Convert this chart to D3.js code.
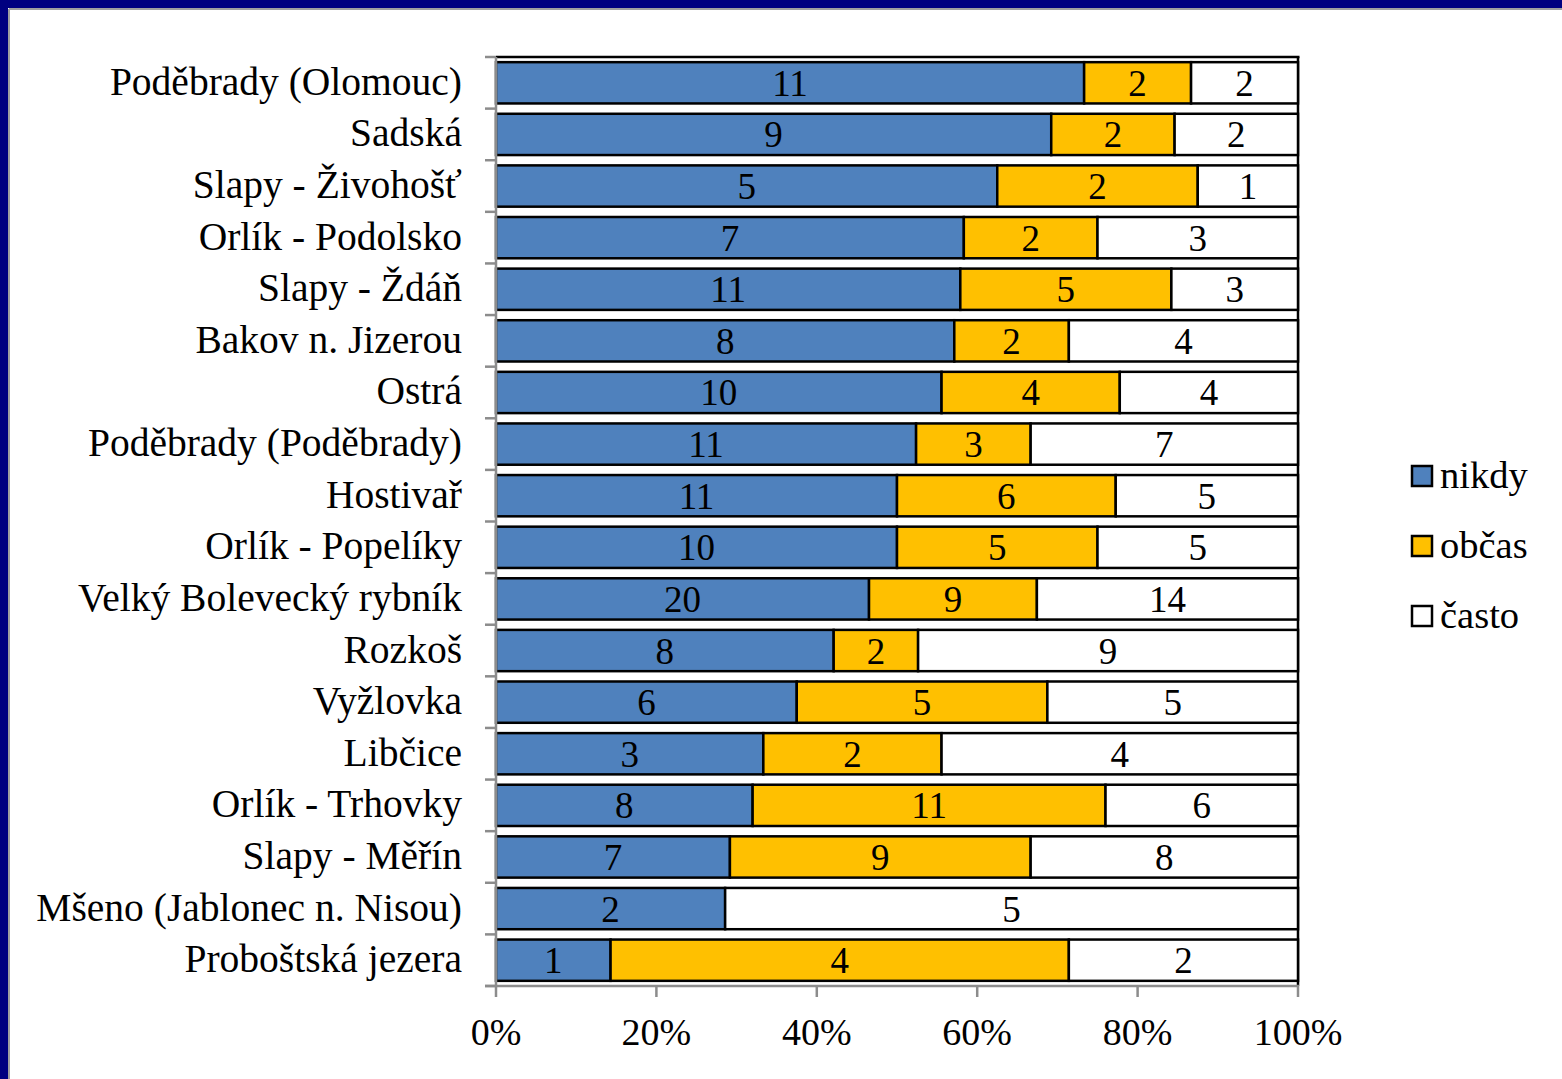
<!DOCTYPE html>
<html>
<head>
<meta charset="utf-8">
<script src="https://cdn.jsdelivr.net/npm/d3@7"></script>
<style>
  html, body { margin: 0; padding: 0; background: #fff; }
  svg { display: block; }
  text { font-family: "Liberation Serif", "Times New Roman", serif; fill: #000; }
</style>
</head>
<body>
<svg id="chart" width="1562" height="1079"></svg>
<script>
// Localities, top to bottom
const categories = [
  "Poděbrady (Olomouc)", "Sadská", "Slapy - Živohošť", "Orlík - Podolsko",
  "Slapy - Ždáň", "Bakov n. Jizerou", "Ostrá", "Poděbrady (Poděbrady)",
  "Hostivař", "Orlík - Popelíky", "Velký Bolevecký rybník", "Rozkoš",
  "Vyžlovka", "Libčice", "Orlík - Trhovky", "Slapy - Měřín",
  "Mšeno (Jablonec n. Nisou)", "Proboštská jezera"
];
// Answer counts per locality
const nikdy = [11, 9, 5, 7, 11, 8, 10, 11, 11, 10, 20, 8, 6, 3, 8, 7, 2, 1];
const obcas = [2, 2, 2, 2, 5, 2, 4, 3, 6, 5, 9, 2, 5, 2, 11, 9, 0, 4];
const casto = [2, 2, 1, 3, 3, 4, 4, 7, 5, 5, 14, 9, 5, 4, 6, 8, 5, 2];

const seriesNames = ["nikdy", "občas", "často"];
const seriesColors = ["#4F81BD", "#FFC000", "#FFFFFF"];
const xTicks = [0, 0.2, 0.4, 0.6, 0.8, 1.0];

const svg = d3.select("#chart");

// Frame
svg.append("rect").attr("x", 0).attr("y", 0).attr("width", 1562).attr("height", 1079).attr("fill", "#fff");
svg.append("rect").attr("x", 0).attr("y", 0).attr("width", 1562).attr("height", 8).attr("fill", "#000080");
svg.append("rect").attr("x", 0).attr("y", 0).attr("width", 8).attr("height", 1079).attr("fill", "#000080");
svg.append("line").attr("x1", 9).attr("x2", 1562).attr("y1", 9).attr("y2", 9).attr("stroke", "#a0a0a0").attr("stroke-width", 2);
svg.append("line").attr("x1", 9).attr("x2", 9).attr("y1", 9).attr("y2", 1079).attr("stroke", "#a0a0a0").attr("stroke-width", 2);

const plot = { left: 496, right: 1298, top: 57, bottom: 986 };

const x = d3.scaleLinear().domain([0, 1]).range([plot.left, plot.right]);
const y = d3.scaleBand().domain(categories).range([plot.top, plot.bottom])
  .paddingInner(0.2).paddingOuter(0.1);
const yBand = d3.scaleBand().domain(categories).range([plot.top, plot.bottom]);

// Table of rows for stacking (shares of each locality's total)
const rows = categories.map((c, i) => {
  const total = nikdy[i] + obcas[i] + casto[i];
  return { cat: c, counts: [nikdy[i], obcas[i], casto[i]], total,
    "nikdy": nikdy[i] / total, "občas": obcas[i] / total, "často": casto[i] / total };
});
const stacked = d3.stack().keys(seriesNames)(rows);

// Plot frame (top / right)
svg.append("line").attr("x1", plot.left).attr("x2", plot.right + 1.5).attr("y1", plot.top).attr("y2", plot.top)
  .attr("stroke", "#000").attr("stroke-width", 2.5);
svg.append("line").attr("x1", plot.right).attr("x2", plot.right).attr("y1", plot.top).attr("y2", plot.bottom)
  .attr("stroke", "#000").attr("stroke-width", 2.5);

// Bars
stacked.forEach((layer, si) => {
  const g = svg.append("g");
  g.selectAll("rect").data(layer).join("rect")
    .attr("x", d => x(d[0]))
    .attr("y", d => y(d.data.cat))
    .attr("width", d => x(d[1]) - x(d[0]))
    .attr("height", y.bandwidth())
    .attr("fill", seriesColors[si])
    .attr("stroke", "#000")
    .attr("stroke-width", 2.5)
    .style("display", d => d.data.counts[si] === 0 ? "none" : null);
  g.selectAll("text").data(layer.filter(d => d.data.counts[si] > 0)).join("text")
    .attr("x", d => (x(d[0]) + x(d[1])) / 2)
    .attr("y", d => y(d.data.cat) + y.bandwidth() / 2 + 13)
    .attr("text-anchor", "middle")
    .attr("font-size", 37)
    .text(d => d.data.counts[si]);
});

// Y axis
const yAxisG = svg.append("g");
yAxisG.append("line").attr("x1", plot.left).attr("x2", plot.left).attr("y1", plot.top).attr("y2", plot.bottom)
  .attr("stroke", "#8c8c8c").attr("stroke-width", 2.5);
const boundaries = categories.map(c => yBand(c)).concat([plot.bottom]);
yAxisG.selectAll("line.tick").data(boundaries).join("line").attr("class", "tick")
  .attr("x1", plot.left - 11).attr("x2", plot.left)
  .attr("y1", d => d).attr("y2", d => d)
  .attr("stroke", "#8c8c8c").attr("stroke-width", 2.5);
yAxisG.selectAll("text").data(categories).join("text")
  .attr("x", 462)
  .attr("y", d => yBand(d) + yBand.bandwidth() / 2 + 12)
  .attr("text-anchor", "end")
  .attr("font-size", 39.5)
  .text(d => d);

// X axis
const xAxisG = svg.append("g");
xAxisG.append("line").attr("x1", plot.left - 11).attr("x2", plot.right + 1).attr("y1", plot.bottom).attr("y2", plot.bottom)
  .attr("stroke", "#8c8c8c").attr("stroke-width", 2.5);
xAxisG.selectAll("line.tick").data(xTicks).join("line").attr("class", "tick")
  .attr("x1", d => x(d)).attr("x2", d => x(d))
  .attr("y1", plot.bottom).attr("y2", plot.bottom + 11)
  .attr("stroke", "#8c8c8c").attr("stroke-width", 2.5);
xAxisG.selectAll("text").data(xTicks).join("text")
  .attr("x", d => x(d))
  .attr("y", 1045)
  .attr("text-anchor", "middle")
  .attr("font-size", 38)
  .text(d => d3.format(".0%")(d));

// Legend
const legend = svg.append("g");
seriesNames.forEach((name, i) => {
  const cy = 476 + i * 70;
  legend.append("rect").attr("x", 1412).attr("y", cy - 10).attr("width", 20).attr("height", 20)
    .attr("fill", seriesColors[i]).attr("stroke", "#000").attr("stroke-width", 2.5);
  legend.append("text").attr("x", 1440).attr("y", cy + 12).attr("font-size", 38.5).text(name);
});
</script>
</body>
</html>
